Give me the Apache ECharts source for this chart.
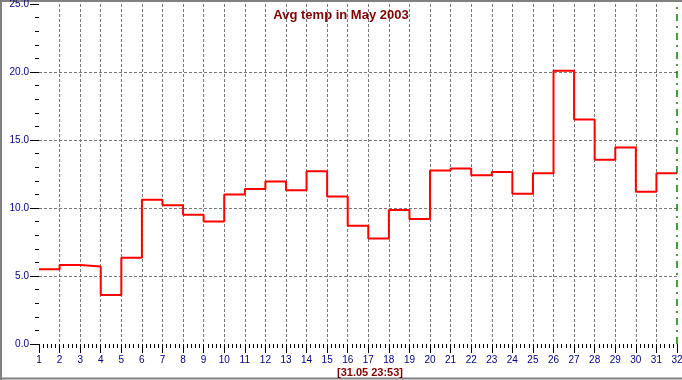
<!DOCTYPE html>
<html>
<head>
<meta charset="utf-8">
<script src="https://cdn.jsdelivr.net/npm/echarts@6/dist/echarts.min.js"></script>
<style>
html,body{margin:0;padding:0;background:#fff;}
#c{width:682px;height:380px;}
</style>
</head>
<body>
<div id="c"></div>
<script>
var days = [1,2,3,4,5,6,7,8,9,10,11,12,13,14,15,16,17,18,19,20,21,22,23,24,25,26,27,28,29,30,31];
var temps = [5.5,5.8,5.7,3.6,6.35,10.6,10.2,9.5,9.0,11.0,11.4,11.95,11.3,12.7,10.85,8.7,7.75,9.85,9.2,12.75,12.9,12.4,12.65,11.05,12.55,20.1,16.5,13.55,14.45,11.2,12.55];
var endDay = 32;
var titleText = 'Avg temp in May 2003';
var stampText = '[31.05 23:53]';
var unitText = '°C';

var pts = days.map(function(d,i){return [d,temps[i]];});
pts.push([endDay, temps[temps.length-1]]);

var chart = echarts.init(document.getElementById('c'));
var font = 'Liberation Sans';
chart.setOption({
  animation:false,
  backgroundColor:'#fff',
  title:[{
    text:titleText, left:'center', top:4,
    textStyle:{color:'#800000',fontSize:13,fontWeight:'bold',fontFamily:font}
  },{
    text:stampText, left:365, top:362, textAlign:'center',
    textStyle:{color:'#800000',fontSize:11,fontWeight:'bold',fontFamily:font}
  }],
  grid:{left:39,right:5,top:4,bottom:36,containLabel:false,outerBoundsMode:'none'},
  xAxis:{
    type:'value', min:1, max:endDay, interval:1,
    axisLine:{show:false},
    axisTick:{show:true,length:9,lineStyle:{color:'#000',width:1}},
    minorTick:{show:true,splitNumber:5,length:4,lineStyle:{color:'#000',width:1}},
    axisLabel:{color:'#000080',fontSize:10,fontFamily:font,margin:11,hideOverlap:false},
    splitLine:{show:true,showMinLine:false,showMaxLine:false,lineStyle:{color:'#777777',type:[3,2],width:1}}
  },
  yAxis:{
    type:'value', min:0, max:25, interval:5,
    name:unitText, nameLocation:'middle', nameGap:27,
    nameTextStyle:{color:'#800000',fontSize:11,fontWeight:'bold',fontFamily:font},
    axisLine:{show:false},
    axisTick:{show:true,length:9,lineStyle:{color:'#000',width:1}},
    minorTick:{show:true,splitNumber:5,length:4,lineStyle:{color:'#000',width:1}},
    axisLabel:{color:'#000080',fontSize:10,fontFamily:font,margin:10,formatter:function(v){return v.toFixed(1);}},
    splitLine:{show:true,showMinLine:false,showMaxLine:false,lineStyle:{color:'#777777',type:[3,2],width:1}}
  },
  series:[{
    type:'line', step:'end', data:pts, symbol:'none',
    lineStyle:{color:'#ff0000',width:2},
    markLine:{
      silent:true, symbol:'none', label:{show:false},
      lineStyle:{color:'#008000',type:[7,5,2,5],width:1.5},
      data:[{xAxis:endDay}]
    }
  }],
  graphic:[
    {type:'line',shape:{x1:0,y1:1,x2:682,y2:1},style:{stroke:'#808080',lineWidth:2}},
    {type:'line',shape:{x1:1,y1:0,x2:1,y2:380},style:{stroke:'#808080',lineWidth:2}},
    {type:'line',shape:{x1:0,y1:378.5,x2:682,y2:378.5},style:{stroke:'#808080',lineWidth:2}}
  ]
});
</script>
</body>
</html>
